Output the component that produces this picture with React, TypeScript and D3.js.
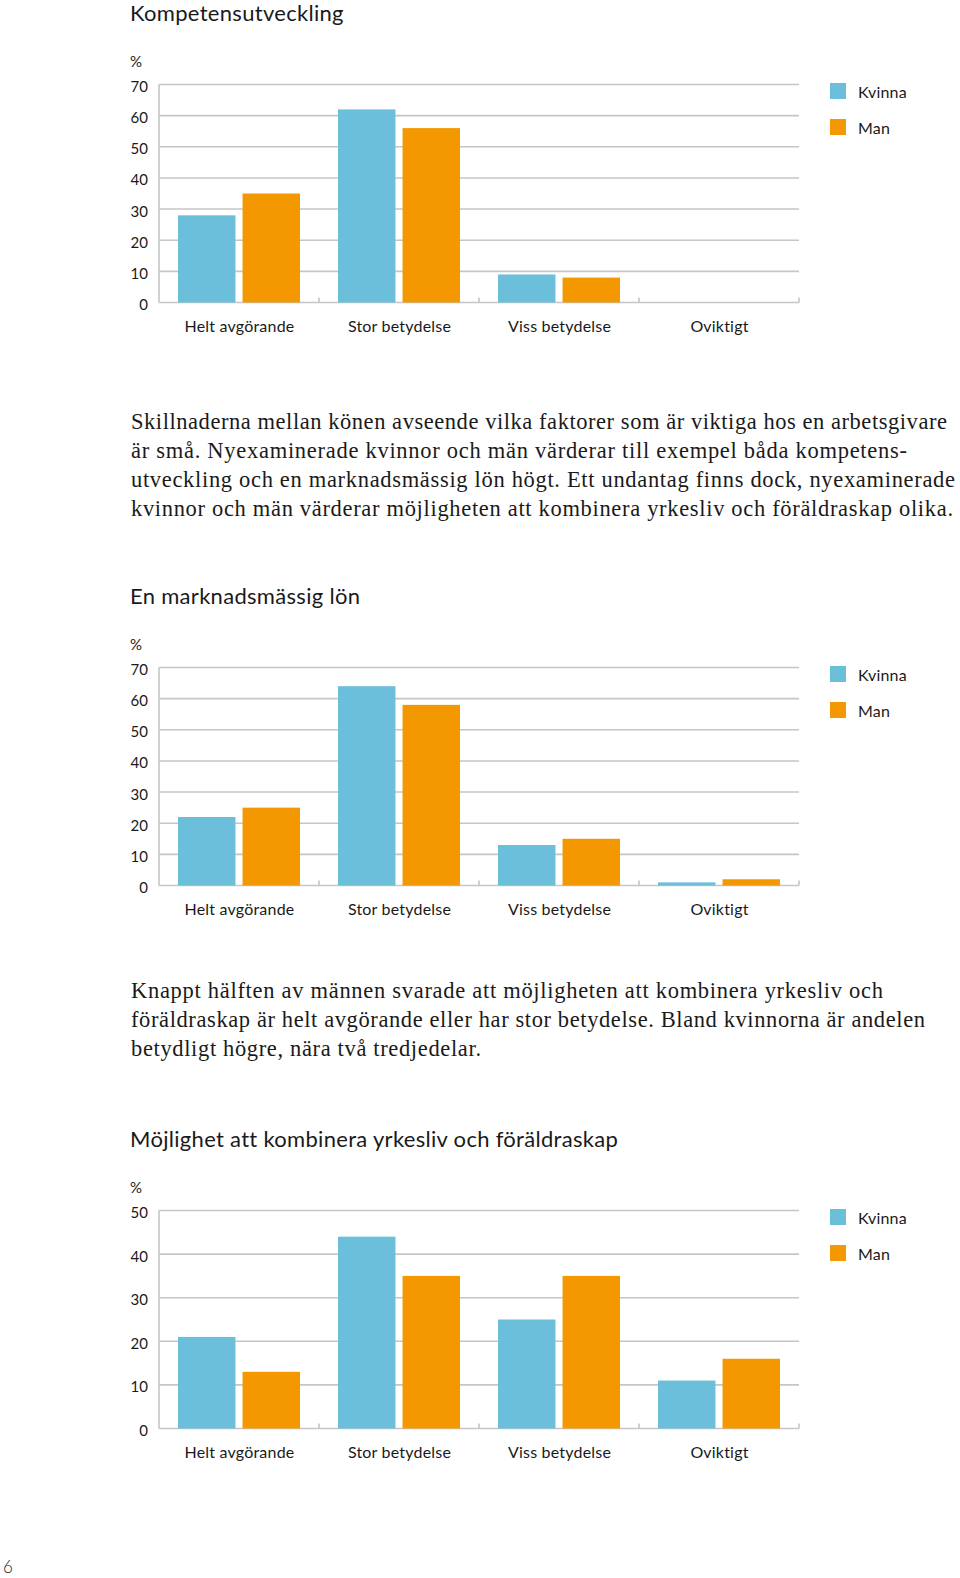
import React from "react";
import * as d3 from "d3";

const categories = ["Helt avgörande", "Stor betydelse", "Viss betydelse", "Oviktigt"];
const seriesNames = ["Kvinna", "Man"];
const seriesColors = ["#6cbfdb", "#f39800"];

const kompetensKvinna = [28, 62, 9, 0];
const kompetensMan = [35, 56, 8, 0];
const lonKvinna = [22, 64, 13, 1];
const lonMan = [25, 58, 15, 2];
const kombKvinna = [21, 44, 25, 11];
const kombMan = [13, 35, 35, 16];

const ticks70 = [0, 10, 20, 30, 40, 50, 60, 70];
const ticks50 = [0, 10, 20, 30, 40, 50];

const chartTitles = [
  "Kompetensutveckling",
  "En marknadsmässig lön",
  "Möjlighet att kombinera yrkesliv och föräldraskap",
];

const paragraph1 = [
  "Skillnaderna mellan könen avseende vilka faktorer som är viktiga hos en arbetsgivare",
  "är små. Nyexaminerade kvinnor och män värderar till exempel båda kompetens-",
  "utveckling och en marknadsmässig lön högt. Ett undantag finns dock, nyexaminerade",
  "kvinnor och män värderar möjligheten att kombinera yrkesliv och föräldraskap olika.",
];
const paragraph1Widths = [816, 776, 824, 822];

const paragraph2 = [
  "Knappt hälften av männen svarade att möjligheten att kombinera yrkesliv och",
  "föräldraskap är helt avgörande eller har stor betydelse. Bland kvinnorna är andelen",
  "betydligt högre, nära två tredjedelar.",
];
const paragraph2Widths = [752, 794, 350];

const SANS = "Lato, 'Open Sans', sans-serif";
const SERIF = "'Liberation Serif', 'DejaVu Serif', serif";
const TEXT = "#1a1a1a";
const GRID = "#c6c6c6";

type ChartProps = {
  title: string;
  top: number;
  ticks: number[];
  values: number[][];
};

const X0 = 159;
const X1 = 799;
const PLOT_H = 218;

function BarChart({ title, top, ticks, values }: ChartProps) {
  const base = top + PLOT_H;
  const yMax = ticks[ticks.length - 1];
  const y = d3.scaleLinear().domain([0, yMax]).range([base, top]);
  const x = d3.scaleBand<string>().domain(categories).range([X0, X1]).paddingInner(0).paddingOuter(0);
  const xs = d3
    .scaleBand<string>()
    .domain(seriesNames)
    .range([19, x.bandwidth() - 19])
    .paddingInner(0.11)
    .paddingOuter(0);

  return (
    <g>
      <text x={130} y={top - 64} fontFamily={SANS} fontSize={22} letterSpacing={0.3} fill={TEXT}>
        {title}
      </text>
      <text x={130} y={top - 18} fontFamily={SANS} fontSize={15} fill={TEXT}>
        %
      </text>
      {ticks.map((t) => (
        <g key={t}>
          <line x1={X0} x2={X1} y1={y(t)} y2={y(t)} stroke={GRID} strokeWidth={1.6} />
          <text x={148} y={y(t) + 7.5} textAnchor="end" fontFamily={SANS} fontSize={15} fill={TEXT}>
            {t}
          </text>
        </g>
      ))}
      <line x1={X0} x2={X0} y1={top} y2={base} stroke={GRID} strokeWidth={1.6} />
      {categories.map((c, i) => (
        <g key={c}>
          <line
            x1={(x(c) as number) + x.bandwidth()}
            x2={(x(c) as number) + x.bandwidth()}
            y1={base}
            y2={base - 5}
            stroke={GRID}
            strokeWidth={1.6}
          />
          {seriesNames.map((s, j) => (
            <rect
              key={s}
              x={(x(c) as number) + (xs(s) as number)}
              width={xs.bandwidth()}
              y={y(values[j][i])}
              height={base - y(values[j][i])}
              fill={seriesColors[j]}
            />
          ))}
          <text
            x={(x(c) as number) + x.bandwidth() / 2 + 0.5}
            y={base + 29}
            textAnchor="middle"
            fontFamily={SANS}
            fontSize={16}
            letterSpacing={0.2}
            fill={TEXT}
          >
            {c}
          </text>
        </g>
      ))}
      {seriesNames.map((s, j) => (
        <g key={s}>
          <rect x={830} y={top - 1.5 + j * 36} width={16} height={16} fill={seriesColors[j]} />
          <text x={858} y={top + 13 + j * 36} fontFamily={SANS} fontSize={16} letterSpacing={0.2} fill={TEXT}>
            {s}
          </text>
        </g>
      ))}
    </g>
  );
}

function Paragraph({ lines, widths, y0, step }: { lines: string[]; widths: number[]; y0: number; step: number }) {
  return (
    <g>
      {lines.map((l, i) => (
        <text
          key={i}
          x={131}
          y={y0 + i * step}
          fontFamily={SERIF}
          fontSize={22.5}
          fill={TEXT}
          textLength={widths[i]}
          lengthAdjust="spacing"
        >
          {l}
        </text>
      ))}
    </g>
  );
}

export default function App() {
  return (
    <svg
      width={960}
      height={1578}
      viewBox="0 0 960 1578"
      style={{ position: "absolute", left: 0, top: 0, display: "block", background: "#fff" }}
    >
      <rect x={0} y={0} width={960} height={1578} fill="#fff" />
      <BarChart title={chartTitles[0]} top={84.5} ticks={ticks70} values={[kompetensKvinna, kompetensMan]} />
      <Paragraph lines={paragraph1} widths={paragraph1Widths} y0={429} step={29} />
      <BarChart title={chartTitles[1]} top={667.5} ticks={ticks70} values={[lonKvinna, lonMan]} />
      <Paragraph lines={paragraph2} widths={paragraph2Widths} y0={998} step={29} />
      <BarChart title={chartTitles[2]} top={1210.5} ticks={ticks50} values={[kombKvinna, kombMan]} />
      <text x={3} y={1573} fontFamily={SANS} fontWeight={300} fontSize={17} fill="#222">
        6
      </text>
    </svg>
  );
}
